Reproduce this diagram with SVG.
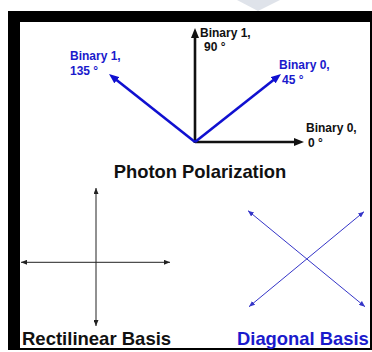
<svg xmlns="http://www.w3.org/2000/svg" width="372" height="352" viewBox="0 0 372 352">
<style>
text{font-family:"Liberation Sans",Arial,sans-serif;font-weight:bold}
.s{font-size:12px}
.b{font-size:18.4px}
.k{fill:#111}
.u{fill:#1a1acc}
.big{stroke-width:2.6;fill:none}
.thin{stroke-width:1;fill:none}
</style>
<defs>
<marker id="ak" markerUnits="userSpaceOnUse" markerWidth="10" markerHeight="8" refX="4" refY="4" orient="auto"><path d="M0,0 L10,4 L0,8 z" fill="#111"/></marker>
<marker id="ab" markerUnits="userSpaceOnUse" markerWidth="10" markerHeight="8" refX="4" refY="4" orient="auto"><path d="M0,0 L10,4 L0,8 z" fill="#1010d0"/></marker>
<marker id="sk" markerUnits="userSpaceOnUse" markerWidth="6" markerHeight="5" refX="6" refY="2.5" orient="auto-start-reverse"><path d="M0,0 L6,2.5 L0,5 z" fill="#222"/></marker>
<marker id="sb" markerUnits="userSpaceOnUse" markerWidth="6" markerHeight="5" refX="6" refY="2.5" orient="auto-start-reverse"><path d="M0,0 L6,2.5 L0,5 z" fill="#3535c8"/></marker>
</defs>
<rect width="372" height="352" fill="#fff"/>
<polygon points="237,0 280,0 258,11" fill="#dfe3ea"/>
<rect x="8" y="11" width="364" height="339" fill="#000"/>
<rect x="20" y="22" width="350" height="326" fill="#fff"/>
<g id="connectors">
<line class="big" x1="195" y1="142" x2="298" y2="142" stroke="#111" marker-end="url(#ak)"/>
<line class="big" x1="195" y1="143" x2="195" y2="34" stroke="#111" marker-end="url(#ak)"/>
<line class="big" x1="195" y1="142" x2="113.7" y2="77.7" stroke="#1010d0" marker-end="url(#ab)"/>
<line class="big" x1="195" y1="142" x2="276.3" y2="77.7" stroke="#1010d0" marker-end="url(#ab)"/>
<line class="thin" x1="96" y1="188" x2="96" y2="326" stroke="#222" marker-start="url(#sk)" marker-end="url(#sk)"/>
<line class="thin" x1="21" y1="262.3" x2="170" y2="262.3" stroke="#222" marker-start="url(#sk)" marker-end="url(#sk)"/>
<line class="thin" x1="248" y1="210.7" x2="365" y2="306.7" stroke="#3535c8" marker-start="url(#sb)" marker-end="url(#sb)"/>
<line class="thin" x1="249" y1="306.7" x2="364" y2="211.7" stroke="#3535c8" marker-start="url(#sb)" marker-end="url(#sb)"/>
</g>
<g id="label-90"><text class="s k" x="200" y="37">Binary 1,</text><text class="s k" x="204" y="51">90 °</text></g>
<g id="label-135"><text class="s u" x="70" y="60">Binary 1,</text><text class="s u" x="70" y="75">135 °</text></g>
<g id="label-45"><text class="s u" x="279" y="69">Binary 0,</text><text class="s u" x="282" y="84">45 °</text></g>
<g id="label-0"><text class="s k" x="306" y="132">Binary 0,</text><text class="s k" x="308" y="147">0 °</text></g>
<g id="title"><text class="b k" x="200" y="178" text-anchor="middle">Photon Polarization</text></g>
<g id="rectilinear"><text class="b k" x="22" y="345" style="font-size:18.5px">Rectilinear Basis</text></g>
<g id="diagonal"><text class="b u" x="237" y="345">Diagonal Basis</text></g>
</svg>
